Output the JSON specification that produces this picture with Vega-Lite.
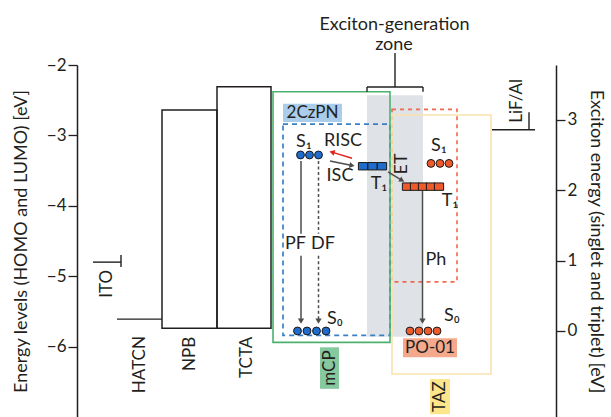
{
  "$schema": "https://vega.github.io/schema/vega-lite/v6.json",
  "width": 479,
  "height": 352,
  "autosize": {"type": "none"},
  "padding": {"left": 77, "top": 65, "right": 55, "bottom": 0},
  "background": "#ffffff",
  "config": {
    "view": {"stroke": null},
    "font": "Lato",
    "text": {"font": "Lato", "fontSize": 17, "color": "#231f20"},
    "axis": {
      "grid": false, "domainColor": "#231f20", "domainWidth": 1.5,
      "tickColor": "#231f20", "tickWidth": 1.3, "tickSize": 9,
      "labelFont": "Lato", "labelFontSize": 17, "labelColor": "#231f20", "labelPadding": 2,
      "titleFont": "Lato", "titleFontSize": 18, "titleFontWeight": "normal", "titleColor": "#231f20"
    }
  },
  "datasets": {
    "zone": [{"name": "exciton-generation zone", "x": 290, "x2": 346, "y": -2.43, "y2": -5.86}],
    "levels": [
      {"material": "NPB", "x": 85, "x2": 140, "y": -2.64, "y2": -5.74},
      {"material": "TCTA", "x": 140, "x2": 194, "y": -2.31, "y2": -5.74},
      {"material": "PO-01", "x": 315, "x2": 380, "y": -2.63, "y2": -5.08},
      {"material": "2CzPN", "x": 206, "x2": 313, "y": -2.84, "y2": -5.84},
      {"material": "mCP", "x": 196, "x2": 313, "y": -2.38, "y2": -5.94},
      {"material": "TAZ", "x": 315, "x2": 414, "y": -2.71, "y2": -6.39}
    ],
    "segments": [
      {"part": "ITO", "x": 16, "x2": 44, "y": -4.8, "y2": -4.8},
      {"part": "ITO", "x": 44, "x2": 44, "y": -4.7, "y2": -4.87},
      {"part": "HATCN", "x": 40, "x2": 85, "y": -5.61, "y2": -5.61},
      {"part": "LiF/Al", "x": 415, "x2": 458, "y": -2.92, "y2": -2.92},
      {"part": "LiF/Al", "x": 452, "x2": 452, "y": -2.67, "y2": -2.92},
      {"part": "bracket", "x": 290, "x2": 346, "y": -2.3125, "y2": -2.3125},
      {"part": "bracket", "x": 290, "x2": 290, "y": -2.3125, "y2": -2.38},
      {"part": "bracket", "x": 346, "x2": 346, "y": -2.3125, "y2": -2.38},
      {"part": "bracket", "x": 318, "x2": 318, "y": -1.83, "y2": -2.3125}
    ],
    "tags": [
      {"name": "2CzPN", "x": 206, "x2": 265, "y": -2.55, "y2": -2.81},
      {"name": "mCP", "x": 243, "x2": 262, "y": -6.01, "y2": -6.6},
      {"name": "PO-01", "x": 326, "x2": 380, "y": -5.88, "y2": -6.15},
      {"name": "TAZ", "x": 353, "x2": 373, "y": -6.46, "y2": -6.96}
    ],
    "names": [
      {"text": "HATCN", "role": "layer", "x": 63, "y": -5.85},
      {"text": "NPB", "role": "layer", "x": 113, "y": -5.86},
      {"text": "TCTA", "role": "layer", "x": 170, "y": -5.86},
      {"text": "ITO", "role": "layer", "x": 30, "y": -4.91},
      {"text": "LiF/Al", "role": "cathode", "x": 440, "y": -2.82},
      {"text": "mCP", "role": "tagV", "x": 252.5, "y": -6.305},
      {"text": "TAZ", "role": "tagV", "x": 363, "y": -6.71},
      {"text": "2CzPN", "role": "tagH", "x": 235.5, "y": -2.68},
      {"text": "PO-01", "role": "tagH", "x": 353, "y": -6.015},
      {"text": "Exciton-generation", "role": "caption", "x": 317.5, "y": -1.43},
      {"text": "zone", "role": "caption", "x": 317, "y": -1.72}
    ],
    "states": [
      {"material": "2CzPN", "state": "S1", "spin": "singlet", "x": 223.5, "y": 2.5},
      {"material": "2CzPN", "state": "S1", "spin": "singlet", "x": 232.5, "y": 2.5},
      {"material": "2CzPN", "state": "S1", "spin": "singlet", "x": 241.5, "y": 2.5},
      {"material": "2CzPN", "state": "T1", "spin": "triplet", "x": 286, "y": 2.34},
      {"material": "2CzPN", "state": "T1", "spin": "triplet", "x": 295.5, "y": 2.34},
      {"material": "2CzPN", "state": "T1", "spin": "triplet", "x": 305, "y": 2.34},
      {"material": "2CzPN", "state": "S0", "spin": "singlet", "x": 220.5, "y": 0},
      {"material": "2CzPN", "state": "S0", "spin": "singlet", "x": 230, "y": 0},
      {"material": "2CzPN", "state": "S0", "spin": "singlet", "x": 239.5, "y": 0},
      {"material": "2CzPN", "state": "S0", "spin": "singlet", "x": 249, "y": 0},
      {"material": "PO-01", "state": "S1", "spin": "singlet", "x": 354, "y": 2.38},
      {"material": "PO-01", "state": "S1", "spin": "singlet", "x": 363, "y": 2.38},
      {"material": "PO-01", "state": "S1", "spin": "singlet", "x": 372, "y": 2.38},
      {"material": "PO-01", "state": "T1", "spin": "triplet", "x": 330, "y": 2.05},
      {"material": "PO-01", "state": "T1", "spin": "triplet", "x": 338, "y": 2.05},
      {"material": "PO-01", "state": "T1", "spin": "triplet", "x": 346, "y": 2.05},
      {"material": "PO-01", "state": "T1", "spin": "triplet", "x": 354, "y": 2.05},
      {"material": "PO-01", "state": "T1", "spin": "triplet", "x": 362, "y": 2.05},
      {"material": "PO-01", "state": "S0", "spin": "singlet", "x": 333, "y": 0},
      {"material": "PO-01", "state": "S0", "spin": "singlet", "x": 342, "y": 0},
      {"material": "PO-01", "state": "S0", "spin": "singlet", "x": 351, "y": 0},
      {"material": "PO-01", "state": "S0", "spin": "singlet", "x": 360, "y": 0}
    ],
    "arrows": [
      {"process": "PF", "part": "upper", "x": 224, "y": 2.415, "x2": 224, "y2": 1.38},
      {"process": "PF", "part": "lower", "x": 224, "y": 1.07, "x2": 224, "y2": 0.15},
      {"process": "DF", "part": "upper", "x": 241.5, "y": 2.415, "x2": 241.5, "y2": 1.38},
      {"process": "DF", "part": "lower", "x": 241.5, "y": 1.07, "x2": 241.5, "y2": 0.15},
      {"process": "Ph", "part": "whole", "x": 345.5, "y": 1.99, "x2": 345.5, "y2": 0.15},
      {"process": "RISC", "part": "whole", "x": 275, "y": 2.453, "x2": 255, "y2": 2.54},
      {"process": "ISC", "part": "whole", "x": 253, "y": 2.415, "x2": 275, "y2": 2.35},
      {"process": "ET", "part": "whole", "x": 311, "y": 2.259, "x2": 325, "y2": 2.14}
    ],
    "heads": [
      {"process": "PF", "x": 224, "y": 0.14},
      {"process": "DF", "x": 241.5, "y": 0.14},
      {"process": "Ph", "x": 345.5, "y": 0.14},
      {"process": "RISC", "x": 255, "y": 2.54},
      {"process": "ISC", "x": 275, "y": 2.35},
      {"process": "ET", "x": 325, "y": 2.14}
    ],
    "stateLabels": [
      {"text": "S₁", "role": "state", "x": 227, "y": 2.685},
      {"text": "RISC", "role": "process", "x": 266, "y": 2.7},
      {"text": "ISC", "role": "process", "x": 263, "y": 2.2},
      {"text": "T₁", "role": "state", "x": 302, "y": 2.09},
      {"text": "PF", "role": "process", "x": 218.5, "y": 1.236},
      {"text": "DF", "role": "process", "x": 246, "y": 1.236},
      {"text": "S₁", "role": "state", "x": 362, "y": 2.63},
      {"text": "T₁", "role": "state", "x": 373, "y": 1.85},
      {"text": "Ph", "role": "process", "x": 359, "y": 1.01},
      {"text": "S₀", "role": "state", "x": 258, "y": 0.17},
      {"text": "S₀", "role": "state", "x": 375, "y": 0.21},
      {"text": "ET", "role": "transfer", "x": 325, "y": 2.372}
    ]
  },
  "layer": [
    {
      "encoding": {
        "x": {"field": "x", "type": "quantitative", "scale": {"domain": [0, 479], "nice": false, "zero": false}, "axis": null},
        "y": {"field": "y", "type": "quantitative", "scale": {"domain": [-7, -2], "nice": false, "zero": false},
              "axis": {"orient": "left", "values": [-6, -5, -4, -3, -2], "title": "Energy levels (HOMO and LUMO) [eV]", "titlePadding": 16}}
      },
      "layer": [
        {"data": {"name": "zone"}, "mark": {"type": "rect", "fill": "#dfe3e8"},
         "encoding": {"x2": {"field": "x2"}, "y2": {"field": "y2"}}},
        {"data": {"name": "levels"}, "transform": [{"filter": "datum.material === 'NPB' || datum.material === 'TCTA'"}],
         "mark": {"type": "rect", "fill": "#ffffff", "fillOpacity": 0, "stroke": "#231f20", "strokeWidth": 1.5},
         "encoding": {"x2": {"field": "x2"}, "y2": {"field": "y2"}}},
        {"data": {"name": "levels"}, "transform": [{"filter": "datum.material === 'PO-01'"}],
         "mark": {"type": "rect", "fill": "#ffffff", "fillOpacity": 0, "stroke": "#ef6a4c", "strokeWidth": 1.6, "strokeDash": [4, 4]},
         "encoding": {"x2": {"field": "x2"}, "y2": {"field": "y2"}}},
        {"data": {"name": "levels"}, "transform": [{"filter": "datum.material === '2CzPN'"}],
         "mark": {"type": "rect", "fill": "#ffffff", "fillOpacity": 0, "stroke": "#3a80c4", "strokeWidth": 1.7, "strokeDash": [5, 4]},
         "encoding": {"x2": {"field": "x2"}, "y2": {"field": "y2"}}},
        {"data": {"name": "levels"}, "transform": [{"filter": "datum.material === 'mCP'"}],
         "mark": {"type": "rect", "fill": "#ffffff", "fillOpacity": 0, "stroke": "#4cb16f", "strokeWidth": 1.6},
         "encoding": {"x2": {"field": "x2"}, "y2": {"field": "y2"}}},
        {"data": {"name": "levels"}, "transform": [{"filter": "datum.material === 'TAZ'"}],
         "mark": {"type": "rect", "fill": "#ffffff", "fillOpacity": 0, "stroke": "#fae2ad", "strokeWidth": 1.6},
         "encoding": {"x2": {"field": "x2"}, "y2": {"field": "y2"}}},
        {"data": {"name": "segments"}, "mark": {"type": "rule", "color": "#231f20", "strokeWidth": 1.4},
         "encoding": {"x2": {"field": "x2"}, "y2": {"field": "y2"}}},
        {"data": {"name": "tags"}, "mark": {"type": "rect"},
         "encoding": {"x2": {"field": "x2"}, "y2": {"field": "y2"},
           "fill": {"field": "name", "type": "nominal", "legend": null,
                    "scale": {"domain": ["2CzPN", "mCP", "PO-01", "TAZ"], "range": ["#a9cdea", "#86c99f", "#f4a88c", "#fde58c"]}}}},
        {"data": {"name": "names"}, "transform": [{"filter": "datum.role === 'layer'"}],
         "mark": {"type": "text", "angle": 270, "align": "right", "baseline": "middle", "fontSize": 17},
         "encoding": {"text": {"field": "text"}}},
        {"data": {"name": "names"}, "transform": [{"filter": "datum.role === 'cathode'"}],
         "mark": {"type": "text", "angle": 270, "align": "left", "baseline": "middle", "fontSize": 17},
         "encoding": {"text": {"field": "text"}}},
        {"data": {"name": "names"}, "transform": [{"filter": "datum.role === 'tagV'"}],
         "mark": {"type": "text", "angle": 270, "align": "center", "baseline": "middle", "fontSize": 17},
         "encoding": {"text": {"field": "text"}}},
        {"data": {"name": "names"}, "transform": [{"filter": "datum.role === 'tagH'"}],
         "mark": {"type": "text", "align": "center", "baseline": "middle", "fontSize": 17},
         "encoding": {"text": {"field": "text"}}},
        {"data": {"name": "names"}, "transform": [{"filter": "datum.role === 'caption'"}],
         "mark": {"type": "text", "align": "center", "baseline": "middle", "fontSize": 18},
         "encoding": {"text": {"field": "text"}}}
      ]
    },
    {
      "encoding": {
        "x": {"field": "x", "type": "quantitative", "scale": {"domain": [0, 479], "nice": false, "zero": false}, "axis": null},
        "y": {"field": "y", "type": "quantitative", "scale": {"domain": [-1.222, 3.778], "nice": false, "zero": false},
              "axis": {"orient": "right", "values": [0, 1, 2, 3], "title": "Exciton energy (singlet and triplet) [eV]", "titlePadding": 10}}
      },
      "layer": [
        {"data": {"name": "arrows"}, "transform": [{"filter": "datum.process === 'PF' || datum.process === 'Ph' || datum.process === 'ISC' || datum.process === 'ET'"}],
         "mark": {"type": "rule", "color": "#4d4d4d", "strokeWidth": 1.5},
         "encoding": {"x2": {"field": "x2"}, "y2": {"field": "y2"}}},
        {"data": {"name": "arrows"}, "transform": [{"filter": "datum.process === 'DF'"}],
         "mark": {"type": "rule", "color": "#4d4d4d", "strokeWidth": 1.5, "strokeDash": [3, 2.5]},
         "encoding": {"x2": {"field": "x2"}, "y2": {"field": "y2"}}},
        {"data": {"name": "arrows"}, "transform": [{"filter": "datum.process === 'RISC'"}],
         "mark": {"type": "rule", "color": "#e2231a", "strokeWidth": 1.5},
         "encoding": {"x2": {"field": "x2"}, "y2": {"field": "y2"}}},
        {"data": {"name": "heads"}, "transform": [{"filter": "datum.process === 'PF' || datum.process === 'DF' || datum.process === 'Ph'"}],
         "mark": {"type": "point", "shape": "triangle-down", "filled": true, "color": "#4d4d4d", "size": 40, "opacity": 1}},
        {"data": {"name": "heads"}, "transform": [{"filter": "datum.process === 'RISC'"}],
         "mark": {"type": "point", "shape": "triangle-up", "filled": true, "color": "#e2231a", "size": 36, "opacity": 1, "angle": -73}},
        {"data": {"name": "heads"}, "transform": [{"filter": "datum.process === 'ISC'"}],
         "mark": {"type": "point", "shape": "triangle-up", "filled": true, "color": "#4d4d4d", "size": 36, "opacity": 1, "angle": 102}},
        {"data": {"name": "heads"}, "transform": [{"filter": "datum.process === 'ET'"}],
         "mark": {"type": "point", "shape": "triangle-up", "filled": true, "color": "#4d4d4d", "size": 36, "opacity": 1, "angle": 121}},
        {"data": {"name": "states"},
         "mark": {"type": "point", "filled": true, "stroke": "#1a1a1a", "strokeWidth": 1, "opacity": 1},
         "encoding": {
           "color": {"field": "material", "type": "nominal", "legend": null, "scale": {"domain": ["2CzPN", "PO-01"], "range": ["#1f6ccc", "#ee5a2c"]}},
           "shape": {"field": "spin", "type": "nominal", "legend": null, "scale": {"domain": ["singlet", "triplet"], "range": ["circle", "M-1,-0.8H1V0.8H-1Z"]}},
           "size": {"field": "spin", "type": "nominal", "legend": null, "scale": {"domain": ["singlet", "triplet"], "range": [62, 85]}}
         }},
        {"data": {"name": "stateLabels"}, "transform": [{"filter": "datum.role !== 'transfer'"}],
         "mark": {"type": "text", "align": "center", "baseline": "middle", "fontSize": 18},
         "encoding": {"text": {"field": "text"}}},
        {"data": {"name": "stateLabels"}, "transform": [{"filter": "datum.role === 'transfer'"}],
         "mark": {"type": "text", "angle": 270, "align": "center", "baseline": "middle", "fontSize": 18},
         "encoding": {"text": {"field": "text"}}}
      ]
    }
  ],
  "resolve": {"scale": {"y": "independent"}}
}
